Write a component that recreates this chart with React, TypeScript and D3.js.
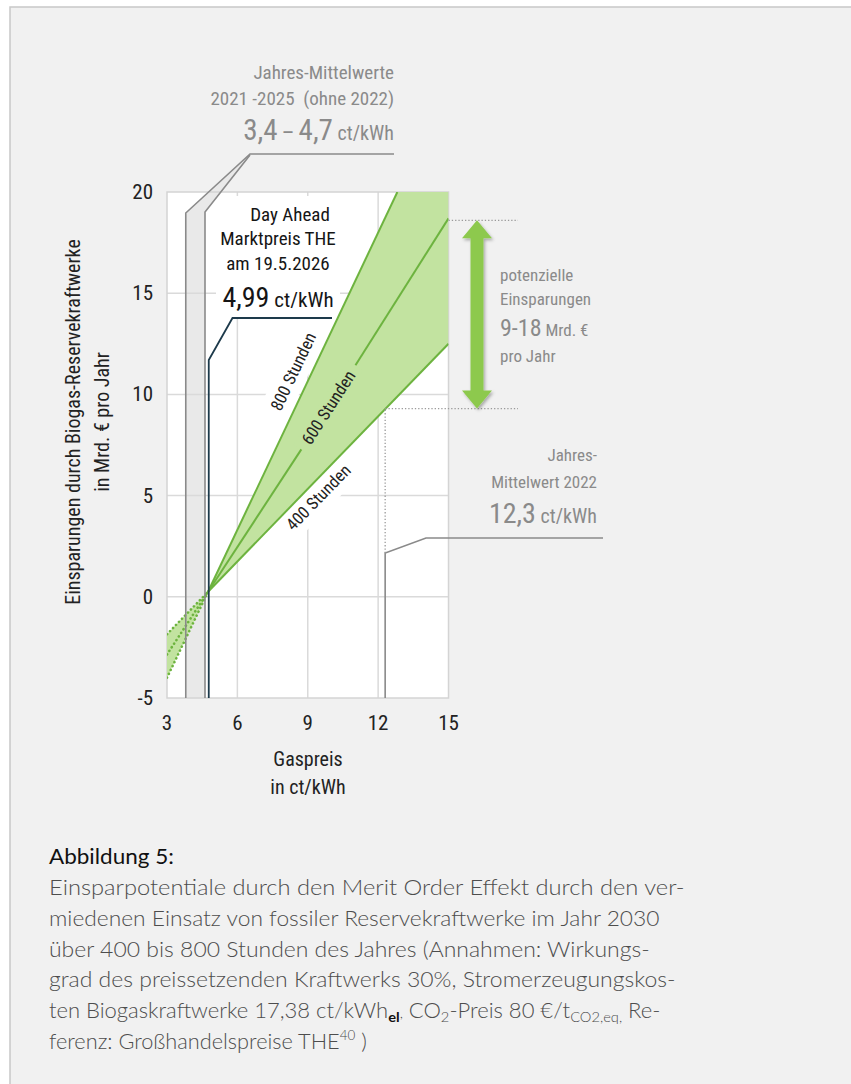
import React, { useLayoutEffect, useRef, useState } from "react";
import * as d3 from "d3";

// ---------- data ----------
const X_TICKS = [3, 6, 9, 12, 15];
const Y_TICKS = [-5, 0, 5, 10, 15, 20];
const X_DOMAIN = [3, 15];
const Y_DOMAIN = [-5, 20];

// common pivot of the three scenario lines (gas price, savings)
const PIVOT = { x: 4.75, y: 0.25 };
// scenario lines: value at x = 3 (dotted part) and end point at the right
const SCENARIOS = [
  { name: "800 Stunden", left: -4.0, endX: 12.82, endY: 20 },
  { name: "600 Stunden", left: -2.85, endX: 15, endY: 18.7 },
  { name: "400 Stunden", left: -1.85, endX: 15, endY: 12.5 },
];
// label anchor (data coords) for each scenario label
const LABEL_POS = [
  { x: 8.38, y: 11.13 },
  { x: 9.88, y: 9.36 },
  { x: 9.45, y: 4.92 },
];
// reference prices (plotted positions)
const BAND_LOW = 3.8;
const BAND_HIGH = 4.62;
const DAY_AHEAD = 4.78;
const MEAN_2022 = 12.3;
const SAVING_MIN = 9.3;
const SAVING_MAX = 18.6;

const CAPTION_LINES = [
  "Einsparpotentiale durch den Merit Order Effekt durch den ver-",
  "miedenen Einsatz von fossiler Reservekraftwerke im Jahr 2030",
  "über 400 bis 800 Stunden des Jahres (Annahmen: Wirkungs-",
  "grad des preissetzenden Kraftwerks 30%, Stromerzeugungskos-",
];
const CAPTION_WIDTHS = [636, 611, 601, 627, 612, 318];

// ---------- layout ----------
const W = 851;
const H = 1084;
const FONT = "'Roboto Condensed', 'Liberation Sans Narrow', 'DejaVu Sans Condensed', sans-serif";
const CAP_FONT = "'Lato', 'Open Sans', 'Noto Sans', sans-serif";
const GRAY_TXT = "#8a8a8a";
const GREEN_FILL = "#c2e3a0";
const GREEN_LINE = "#6db33f";
const GRID = "#dadada";

function FitLine({ x, y, width, children, ...rest }: any) {
  const ref = useRef<SVGTextElement>(null);
  const [sx, setSx] = useState(1);
  useLayoutEffect(() => {
    if (ref.current) {
      const w = ref.current.getBBox().width;
      if (w > 0) setSx(width / w);
    }
  }, [width]);
  return (
    <g transform={`translate(${x},${y}) scale(${sx},1)`}>
      <text ref={ref} x={0} y={0} {...rest}>
        {children}
      </text>
    </g>
  );
}

export default function App() {
  const x = d3.scaleLinear().domain(X_DOMAIN).range([167, 448.5]);
  const y = d3.scaleLinear().domain(Y_DOMAIN).range([698, 192]);
  const line = d3.line<[number, number]>().x((d) => x(d[0])).y((d) => y(d[1]));

  const s800 = SCENARIOS[0];
  const s400 = SCENARIOS[2];
  const fillRight: [number, number][] = [
    [PIVOT.x, PIVOT.y],
    [s800.endX, s800.endY],
    [15, 20],
    [s400.endX, s400.endY],
  ];
  const fillLeft: [number, number][] = [
    [3, s800.left],
    [PIVOT.x, PIVOT.y],
    [3, s400.left],
  ];

  const angle = (s: (typeof SCENARIOS)[0]) => {
    const dx = x(s.endX) - x(PIVOT.x);
    const dy = y(s.endY) - y(PIVOT.y);
    return (Math.atan2(dy, dx) * 180) / Math.PI;
  };

  const xb1 = x(BAND_LOW);
  const xb2 = x(BAND_HIGH);
  const xd = x(DAY_AHEAD);
  const x22 = x(MEAN_2022);
  const yMin = y(SAVING_MIN);
  const yMax = y(SAVING_MAX);
  const arrowX = 477;

  const arrowPath = (() => {
    const hw = 15, hh = 18, sw = 6.5;
    const t = yMax, b = yMin;
    return `M${arrowX},${t} L${arrowX + hw},${t + hh} L${arrowX + sw},${t + hh} L${arrowX + sw},${b - hh} L${arrowX + hw},${b - hh} L${arrowX},${b} L${arrowX - hw},${b - hh} L${arrowX - sw},${b - hh} L${arrowX - sw},${t + hh} L${arrowX - hw},${t + hh} Z`;
  })();

  const capY = (i: number) => 895 + i * 30.8;

  return (
    <svg
      width={W}
      height={H}
      style={{ position: "absolute", left: 0, top: 0, background: "#fff" }}
      fontFamily={FONT}
    >
      <defs>
        <filter id="sh" x="-50%" y="-20%" width="200%" height="140%">
          <feDropShadow dx="1.5" dy="2" stdDeviation="1.8" floodColor="#000" floodOpacity="0.3" />
        </filter>
        <clipPath id="plotclip">
          <rect x={x(3)} y={y(20)} width={x(15) - x(3)} height={y(-5) - y(20)} />
        </clipPath>
      </defs>

      {/* frame */}
      <rect x={10} y={7} width={900} height={1100} fill="#f1f1f1" stroke="#c8c8c8" strokeWidth={1.5} />

      {/* plot background */}
      <rect x={x(3)} y={y(20)} width={x(15) - x(3)} height={y(-5) - y(20)} fill="#fff" />

      {/* gray band 2021-2025 */}
      <path
        d={`M${xb1},${y(-5)} L${xb1},213 L250,154 L250,155 L${xb2},212 L${xb2},${y(-5)} Z`}
        fill="#e9e9e9"
      />

      {/* grid */}
      {X_TICKS.slice(1, -1).map((t) => (
        <line key={"gx" + t} x1={x(t)} x2={x(t)} y1={y(20)} y2={y(-5)} stroke={GRID} strokeWidth={1.5} />
      ))}
      {Y_TICKS.slice(1, -1).map((t) => (
        <line key={"gy" + t} x1={x(3)} x2={x(15)} y1={y(t)} y2={y(t)} stroke={GRID} strokeWidth={1.5} />
      ))}
      <rect x={x(3)} y={y(20)} width={x(15) - x(3)} height={y(-5) - y(20)} fill="none" stroke="#d4d4d4" strokeWidth={1.5} />

      {/* white boxes behind labels */}
      <rect x={216} y={196} width={124} height={121} fill="#fff" />
      {SCENARIOS.map((s, i) =>
        i === 1 ? null : (
          <g key={"bg" + i} transform={`translate(${x(LABEL_POS[i].x)},${y(LABEL_POS[i].y)}) rotate(${angle(s)})`}>
            <rect x={i === 0 ? -62 : -58} y={-15} width={i === 0 ? 124 : 116} height={30} fill="#fff" />
          </g>
        )
      )}

      {/* green fills */}
      <g clipPath="url(#plotclip)">
        <path d={line(fillRight) + "Z"} fill={GREEN_FILL} />
        <path d={line(fillLeft) + "Z"} fill={GREEN_FILL} />
        {/* 600h label mask */}
        <g transform={`translate(${x(LABEL_POS[1].x)},${y(LABEL_POS[1].y)}) rotate(${angle(SCENARIOS[1])})`}>
          <rect x={-50} y={-9} width={100} height={18} fill={GREEN_FILL} />
        </g>
      </g>

      {/* scenario lines */}
      <g clipPath="url(#plotclip)">
        {SCENARIOS.map((s, i) => {
          const solid: [number, number][] = [
            [PIVOT.x, PIVOT.y],
            [s.endX, s.endY],
          ];
          if (i === 1) {
            const a = x(LABEL_POS[1].x), b = y(LABEL_POS[1].y);
            const ang = (angle(s) * Math.PI) / 180;
            const g1x = a - 50 * Math.cos(ang), g1y = b - 50 * Math.sin(ang);
            const g2x = a + 50 * Math.cos(ang), g2y = b + 50 * Math.sin(ang);
            return (
              <g key={"l" + i}>
                <line x1={x(PIVOT.x)} y1={y(PIVOT.y)} x2={g1x} y2={g1y} stroke={GREEN_LINE} strokeWidth={2} />
                <line x1={g2x} y1={g2y} x2={x(s.endX)} y2={y(s.endY)} stroke={GREEN_LINE} strokeWidth={2} />
              </g>
            );
          }
          return <path key={"l" + i} d={line(solid)!} stroke={GREEN_LINE} strokeWidth={2} fill="none" />;
        })}
        {SCENARIOS.map((s, i) => (
          <path
            key={"d" + i}
            d={line([
              [3, s.left],
              [PIVOT.x, PIVOT.y],
            ])!}
            stroke={GREEN_LINE}
            strokeWidth={2.6}
            strokeLinecap="round"
            strokeDasharray="0.1 4.2"
            fill="none"
          />
        ))}
      </g>

      {/* gray band lines + leader */}
      <path d={`M${xb1},${y(-5)} L${xb1},213 L250,154 L394,154`} fill="none" stroke="#8a8a8a" strokeWidth={1.6} />
      <path d={`M${xb2},${y(-5)} L${xb2},212 L250,155`} fill="none" stroke="#8a8a8a" strokeWidth={1.6} />

      {/* day-ahead line */}
      <path d={`M${xd},${y(-5)} L${xd},360 L232.5,318 L332,318`} fill="none" stroke="#1d3a4b" strokeWidth={1.8} />

      {/* 2022 leader */}
      <path d={`M${x22},${y(-5)} L${x22},553 L426,538 L603,538`} fill="none" stroke="#8a8a8a" strokeWidth={1.6} />
      <line x1={x22} x2={x22} y1={553} y2={yMin} stroke="#9a9a9a" strokeWidth={1.3} strokeDasharray="1.3 2" />
      <line x1={x22} x2={518} y1={yMin} y2={yMin} stroke="#9a9a9a" strokeWidth={1.3} strokeDasharray="1.3 2" />
      <line x1={x(15)} x2={518} y1={yMax} y2={yMax} stroke="#9a9a9a" strokeWidth={1.3} strokeDasharray="1.3 2" />

      {/* arrow */}
      <path d={arrowPath} fill="#8dc94e" filter="url(#sh)" />

      {/* scenario labels */}
      {SCENARIOS.map((s, i) => (
        <text
          key={"t" + i}
          transform={`translate(${x(LABEL_POS[i].x)},${y(LABEL_POS[i].y)}) rotate(${angle(s)})`}
          textAnchor="middle"
          dominantBaseline="central"
          fontSize={17}
          fill="#222"
        >
          {s.name}
        </text>
      ))}

      {/* ticks */}
      {Y_TICKS.map((t) => (
        <text key={"yt" + t} x={153} y={y(t)} textAnchor="end" dominantBaseline="central" fontSize={21} fill="#222">
          {t}
        </text>
      ))}
      {X_TICKS.map((t) => (
        <text key={"xt" + t} x={x(t)} y={723} textAnchor="middle" dominantBaseline="central" fontSize={21} fill="#222">
          {t}
        </text>
      ))}

      {/* axis titles */}
      <text x={308} y={766} textAnchor="middle" fontSize={20} fill="#222">Gaspreis</text>
      <text x={308} y={794} textAnchor="middle" fontSize={20} fill="#222">in ct/kWh</text>
      <g transform="translate(80,422) rotate(-90)">
        <text x={0} y={0} textAnchor="middle" fontSize={20} fill="#222">Einsparungen durch Biogas-Reservekraftwerke</text>
        <text x={0} y={29} textAnchor="middle" fontSize={20} fill="#222">in Mrd. € pro Jahr</text>
      </g>

      {/* top annotation */}
      <g fill={GRAY_TXT} textAnchor="end">
        <text x={394} y={79} fontSize={19}>Jahres-Mittelwerte</text>
        <text x={394} y={105} fontSize={19} xmlSpace="preserve">2021 -2025  (ohne 2022)</text>
        <text x={394} y={140}>
          <tspan fontSize={29}>3,4</tspan>
          <tspan fontSize={22}>{"\u2009\u2013\u2009"}</tspan>
          <tspan fontSize={29}>4,7</tspan>
          <tspan fontSize={20}> ct/kWh</tspan>
        </text>
      </g>

      {/* day ahead annotation */}
      <g fill="#151515" textAnchor="middle">
        <text x={290} y={221} fontSize={19}>Day Ahead</text>
        <text x={278} y={245} fontSize={19}>Marktpreis THE</text>
        <text x={278} y={270} fontSize={19}>am 19.5.2026</text>
        <text x={278} y={307}>
          <tspan fontSize={28}>4,99</tspan>
          <tspan fontSize={21}> ct/kWh</tspan>
        </text>
      </g>

      {/* savings annotation */}
      <g fill={GRAY_TXT}>
        <text x={500} y={281} fontSize={17}>potenzielle</text>
        <text x={500} y={305} fontSize={17}>Einsparungen</text>
        <text x={500} y={336}>
          <tspan fontSize={24}>9-18</tspan>
          <tspan fontSize={17}> Mrd. €</tspan>
        </text>
        <text x={500} y={362} fontSize={17}>pro Jahr</text>
      </g>

      {/* 2022 annotation */}
      <g fill={GRAY_TXT} textAnchor="end">
        <text x={597} y={461} fontSize={17}>Jahres-</text>
        <text x={597} y={488} fontSize={17}>Mittelwert 2022</text>
        <text x={597} y={523}>
          <tspan fontSize={28}>12,3</tspan>
          <tspan fontSize={20}> ct/kWh</tspan>
        </text>
      </g>

      {/* caption */}
      <g fontFamily={CAP_FONT} fontSize={21} fontWeight={300} fill="#4d4d4d">
        <FitLine x={49} y={864} width={125} fill="#111" fontWeight={400}>
          Abbildung 5:
        </FitLine>
        {CAPTION_LINES.map((l, i) => (
          <FitLine key={"c" + i} x={49} y={capY(i)} width={CAPTION_WIDTHS[i]}>
            {l}
          </FitLine>
        ))}
        <FitLine x={49} y={capY(4)} width={CAPTION_WIDTHS[4]}>
          ten Biogaskraftwerke 17,38 ct/kWh
          <tspan fontSize={14} fontWeight={700} dy={4} fill="#111">el</tspan>
          <tspan fontSize={14} dy={-4}>,</tspan>
          <tspan> CO</tspan>
          <tspan fontSize={14} dy={4}>2</tspan>
          <tspan dy={-4}>-Preis 80 €/t</tspan>
          <tspan fontSize={14} dy={4}>CO2,eq,</tspan>
          <tspan dy={-4}> Re-</tspan>
        </FitLine>
        <FitLine x={49} y={capY(5)} width={CAPTION_WIDTHS[5]}>
          ferenz: Großhandelspreise THE
          <tspan fontSize={13} dy={-9}>40</tspan>
          <tspan dy={9}> )</tspan>
        </FitLine>
      </g>
    </svg>
  );
}
